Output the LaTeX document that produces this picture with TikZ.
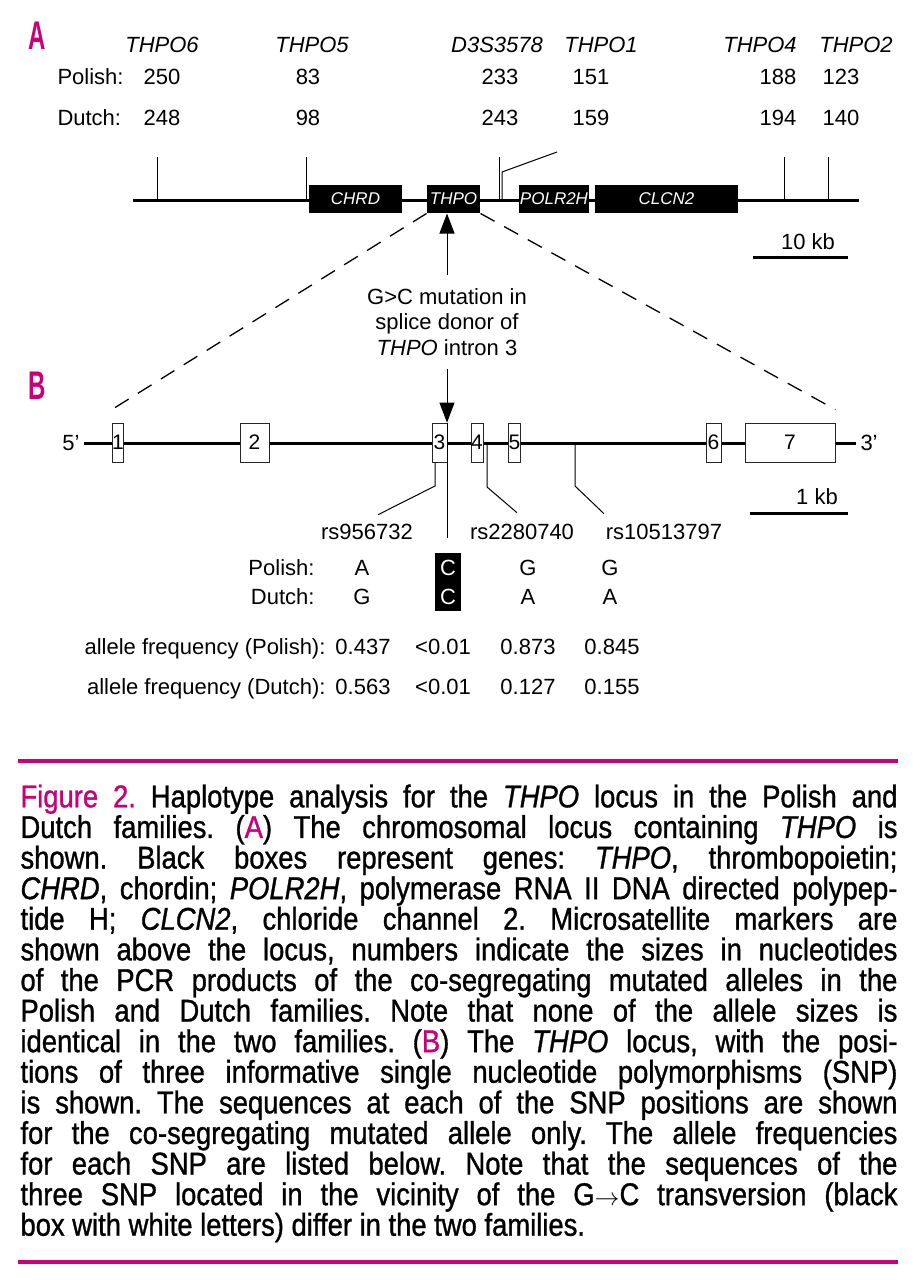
\documentclass[tikz,border=0pt]{standalone}
\usepackage{fontspec}
\setmainfont{Liberation Sans}
\newfontfamily\capfont[FakeStretch=0.87, FakeBold=1]{Liberation Sans}
\newfontfamily\panelfont[FakeStretch=0.6]{Liberation Sans}
\usetikzlibrary{arrows.meta, positioning}
\definecolor{cmag}{HTML}{C8007A}
\tikzset{
  every picture/.style={x=1pt, y=-1pt, line width=1pt},
  lbl/.style={font=\fontsize{22}{26}\selectfont, inner sep=0pt},
  mrk/.style={inner sep=0pt, font=\fontsize{22}{26}\selectfont\itshape},
  gene/.style={fill=black, text=white, inner sep=0pt, minimum height=28pt, minimum width=#1, font=\fontsize{17}{20}\selectfont\itshape},
  exon/.style={draw=black!85, fill=white, line width=0.8pt, inner sep=0pt, minimum height=39pt, minimum width=#1, font=\fontsize{21}{24}\selectfont},
  dna/.style={line width=3pt},
  mtick/.style={line width=1pt},
  arrow/.style={-{Triangle[length=20pt, width=15pt]}, line width=1pt},
  zoomline/.style={dash pattern=on 16pt off 11pt, line width=1.3pt},
  snpline/.style={line width=1pt},
  panel/.style={font=\panelfont\bfseries\fontsize{40}{42}\selectfont, text=cmag, inner sep=0pt},
  scalebar/.style={line width=3pt},
  rule/.style={draw=cmag, line width=3.5pt},
}

\begin{document}
\begin{tikzpicture}
  \useasboundingbox (0,0) rectangle (917,1280);
  % panel A: markers and allele sizes
  \node[panel] (pa) at (37,36) {A};
  \node[mrk] (m6) at (162,45) {THPO6};
  \node[mrk] (m5) at (312,45) {THPO5};
  \node[mrk] (md) at (497,45) {D3S3578};
  \node[mrk] (m1) at (601,45) {THPO1};
  \node[mrk] (m4) at (760,45) {THPO4};
  \node[mrk] (m2) at (856,45) {THPO2};
  \node[lbl, anchor=west] (polA) at (57,77) {Polish:};
  \node[lbl] (p6) at (162,77) {250};
  \node[lbl] (p5) at (308,77) {83};
  \node[lbl] (pd) at (500,77) {233};
  \node[lbl] (p1) at (591,77) {151};
  \node[lbl] (p4) at (778,77) {188};
  \node[lbl] (p2) at (841,77) {123};
  \node[lbl, anchor=west] (dutA) at (57,118) {Dutch:};
  \node[lbl] (d6) at (162,118) {248};
  \node[lbl] (d5) at (308,118) {98};
  \node[lbl] (dd) at (500,118) {243};
  \node[lbl] (d1) at (591,118) {159};
  \node[lbl] (d4) at (778,118) {194};
  \node[lbl] (d2) at (841,118) {140};

  % chromosomal locus
  \coordinate (chrL) at (133,200);
  \coordinate (chrR) at (859,200);
  \draw[dna] (chrL) -- (chrR);
  \draw[mtick] (157,157) -- (157,200);
  \draw[mtick] (306,157) -- (306,200);
  \draw[mtick] (499,157) -- (499,200);
  \draw[mtick] (502,200) -- (502,172) -- (557,152);
  \draw[mtick] (784,157) -- (784,200);
  \draw[mtick] (828,157) -- (828,200);
  \node[gene=93pt] (chrd) at (355.5,199) {CHRD};
  \node[gene=53pt] (thpo) at (453.5,199) {THPO};
  \node[gene=70pt] (polr) at (554,199) {POLR2H};
  \node[gene=143pt] (clcn) at (666.5,199) {CLCN2};
  \node[lbl] (kb10) at (808,242) {10 kb};
  \draw[scalebar] (753,257) -- (848,257);

  % mutation
  \node[lbl, align=center, inner ysep=13pt, font=\fontsize{22}{25.5}\selectfont] (mut) at (447,322)
    {G>C mutation in\\splice donor of\\\textit{THPO} intron 3};

  % panel B: THPO gene
  \node[panel] (pb) at (37,386) {B};
  \coordinate (geneL) at (84,443);
  \coordinate (geneR) at (856,443);
  \draw[dna] (geneL) -- (geneR);
  \node[lbl, left=4pt of geneL] (five) {5'};
  \node[lbl, right=4pt of geneR] (three) {3'};
  \node[exon=10pt] (ex1) at (118,442.5) {1};
  \node[exon=29pt] (ex2) at (254.5,442.5) {2};
  \node[exon=15pt] (ex3) at (439.5,442.5) {3};
  \node[exon=12pt] (ex4) at (477,442.5) {4};
  \node[exon=11pt] (ex5) at (514.5,442.5) {5};
  \node[exon=15pt] (ex6) at (713.5,442.5) {6};
  \node[exon=90pt] (ex7) at (790,442.5) {7};
  \draw[zoomline] (thpo.south west) -- ([yshift=13pt]ex1.north west);
  \draw[zoomline] (thpo.south east) -- ([yshift=13pt]ex7.north east);
  \draw[arrow] (mut.north) -- (mut.north |- thpo.south);
  \draw[arrow] (mut.south) -- (mut.south |- ex3.north);
  \coordinate (mutend) at (447,538);
  \draw[snpline] (mut.south |- ex3.north) -- (mutend);

  % SNPs
  \coordinate (snp1) at (435,462);
  \coordinate (snp2) at (487,443);
  \coordinate (snp3) at (575,443);
  \node[lbl] (rs1) at (367,532) {rs956732};
  \node[lbl] (rs2) at (522,532) {rs2280740};
  \node[lbl] (rs3) at (664,532) {rs10513797};
  \draw[snpline] (snp1) -- ++(0,24) -- ([xshift=11pt, yshift=9pt]rs1.north);
  \draw[snpline] (snp2) -- ++(0,44) -- ([xshift=-5pt, yshift=11pt]rs2.north);
  \draw[snpline] (snp3) -- ++(0,43) -- ([xshift=-60pt, yshift=10pt]rs3.north);
  \node[lbl] (kb1) at (817,497) {1 kb};
  \draw[scalebar] (750,513) -- (848,513);

  % sequences
  \node[fill=black, inner sep=0pt, minimum width=26pt, minimum height=58pt] (mbox) at (448,582) {};
  \node[lbl, anchor=east] (polB) at (315,568) {Polish:};
  \node[lbl, anchor=east] (dutB) at (315,597) {Dutch:};
  \node[lbl] (sp1) at (362,568) {A};
  \node[lbl, text=white] (sp2) at (448,568) {C};
  \node[lbl] (sp3) at (528,568) {G};
  \node[lbl] (sp4) at (610,568) {G};
  \node[lbl] (sd1) at (362,597) {G};
  \node[lbl, text=white] (sd2) at (448,597) {C};
  \node[lbl] (sd3) at (528,597) {A};
  \node[lbl] (sd4) at (610,597) {A};

  % allele frequencies
  \node[lbl, anchor=base east] (afp) at (326,654) {allele frequency (Polish):};
  \node[lbl, anchor=base] (fp1) at (363,654) {0.437};
  \node[lbl, anchor=base] (fp2) at (443,654) {<0.01};
  \node[lbl, anchor=base] (fp3) at (528,654) {0.873};
  \node[lbl, anchor=base] (fp4) at (612,654) {0.845};
  \node[lbl, anchor=base east] (afd) at (326,694) {allele frequency (Dutch):};
  \node[lbl, anchor=base] (fd1) at (363,694) {0.563};
  \node[lbl, anchor=base] (fd2) at (443,694) {<0.01};
  \node[lbl, anchor=base] (fd3) at (528,694) {0.127};
  \node[lbl, anchor=base] (fd4) at (612,694) {0.155};

  % caption
  \draw[rule] (18,761) -- (898,761);
  \node[anchor=north west, inner sep=0pt, text width=877pt, align=justify,
        font=\capfont\fontsize{31.5}{30.6}\selectfont\frenchspacing] (cap) at (20,784)
  {\noindent{\color{cmag}Figure 2.} Haplotype analysis for the \textit{THPO} locus in the Polish and\linebreak
   Dutch families. ({\color{cmag}A}) The chromosomal locus containing \textit{THPO} is\linebreak
   shown. Black boxes represent genes: \textit{THPO}, thrombopoietin;\linebreak
   \textit{CHRD}, chordin; \textit{POLR2H}, polymerase RNA II DNA directed polypep-\linebreak
   tide H; \textit{CLCN2}, chloride channel 2. Microsatellite markers are\linebreak
   shown above the locus, numbers indicate the sizes in nucleotides\linebreak
   of the PCR products of the co-segregating mutated alleles in the\linebreak
   Polish and Dutch families. Note that none of the allele sizes is\linebreak
   identical in the two families. ({\color{cmag}B}) The \textit{THPO} locus, with the posi-\linebreak
   tions of three informative single nucleotide polymorphisms (SNP)\linebreak
   is shown. The sequences at each of the SNP positions are shown\linebreak
   for the co-segregating mutated allele only. The allele frequencies\linebreak
   for each SNP are listed below. Note that the sequences of the\linebreak
   three SNP located in the vicinity of the G\ensuremath{\rightarrow}C transversion (black\linebreak
   box with white letters) differ in the two families.};
  \draw[rule] (18,1262) -- (898,1262);
\end{tikzpicture}
\end{document}
